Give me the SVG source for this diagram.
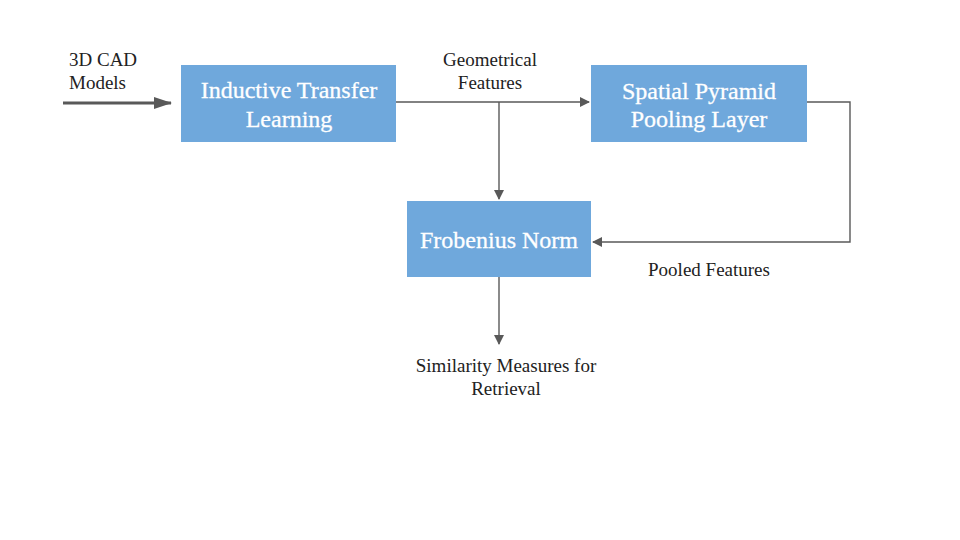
<svg xmlns="http://www.w3.org/2000/svg" width="960" height="540" viewBox="0 0 960 540">
<style>
.box{fill:#6fa8dc}
.bt{font-family:"Liberation Serif","Times New Roman",serif;font-size:24px;fill:#fff;text-anchor:middle;stroke:#fff;stroke-width:0.3}
.lb{font-family:"Liberation Serif","Times New Roman",serif;font-size:19px;fill:#222}
.c{fill:none;stroke:#595959;stroke-width:1.4}
.thick{stroke-width:3}
</style>
<defs>
<marker id="ah" viewBox="0 0 10 10" refX="9" refY="5" markerWidth="10" markerHeight="10" markerUnits="userSpaceOnUse" orient="auto">
<path d="M0,0 L10,5 L0,10 z" fill="#595959"/>
</marker>
<marker id="ahb" viewBox="0 0 18 12" refX="17" refY="6" markerWidth="18" markerHeight="12" markerUnits="userSpaceOnUse" orient="auto">
<path d="M0,0 L18,6 L0,12 z" fill="#595959"/>
</marker>
</defs>
<rect width="960" height="540" fill="#fff"/>
<g id="connectors">
<path class="c thick" d="M63,103 H171" marker-end="url(#ahb)"/>
<path class="c" d="M396,102 H589" marker-end="url(#ah)"/>
<path class="c" d="M499,102 V199" marker-end="url(#ah)"/>
<path class="c" d="M807,102 H850 V242 H593" marker-end="url(#ah)"/>
<path class="c" d="M499,277 V344" marker-end="url(#ah)"/>
</g>
<g id="input-label">
<text class="lb" x="69" y="66">3D CAD</text>
<text class="lb" x="69" y="89">Models</text>
</g>
<g id="inductive">
<rect class="box" x="181" y="65" width="215" height="77"/>
<text class="bt" x="289" y="98">Inductive Transfer</text>
<text class="bt" x="289" y="127">Learning</text>
</g>
<g id="geom-label">
<text class="lb" x="490" y="66" text-anchor="middle">Geometrical</text>
<text class="lb" x="490" y="89" text-anchor="middle">Features</text>
</g>
<g id="spp">
<rect class="box" x="591" y="65" width="216" height="77"/>
<text class="bt" x="699" y="99">Spatial Pyramid</text>
<text class="bt" x="699" y="127">Pooling Layer</text>
</g>
<g id="frobenius">
<rect class="box" x="407" y="201" width="184" height="76"/>
<text class="bt" x="499" y="248">Frobenius Norm</text>
</g>
<g id="pooled-label">
<text class="lb" x="709" y="276" text-anchor="middle">Pooled Features</text>
</g>
<g id="output-label">
<text class="lb" x="506" y="372" text-anchor="middle">Similarity Measures for</text>
<text class="lb" x="506" y="395" text-anchor="middle">Retrieval</text>
</g>
</svg>
